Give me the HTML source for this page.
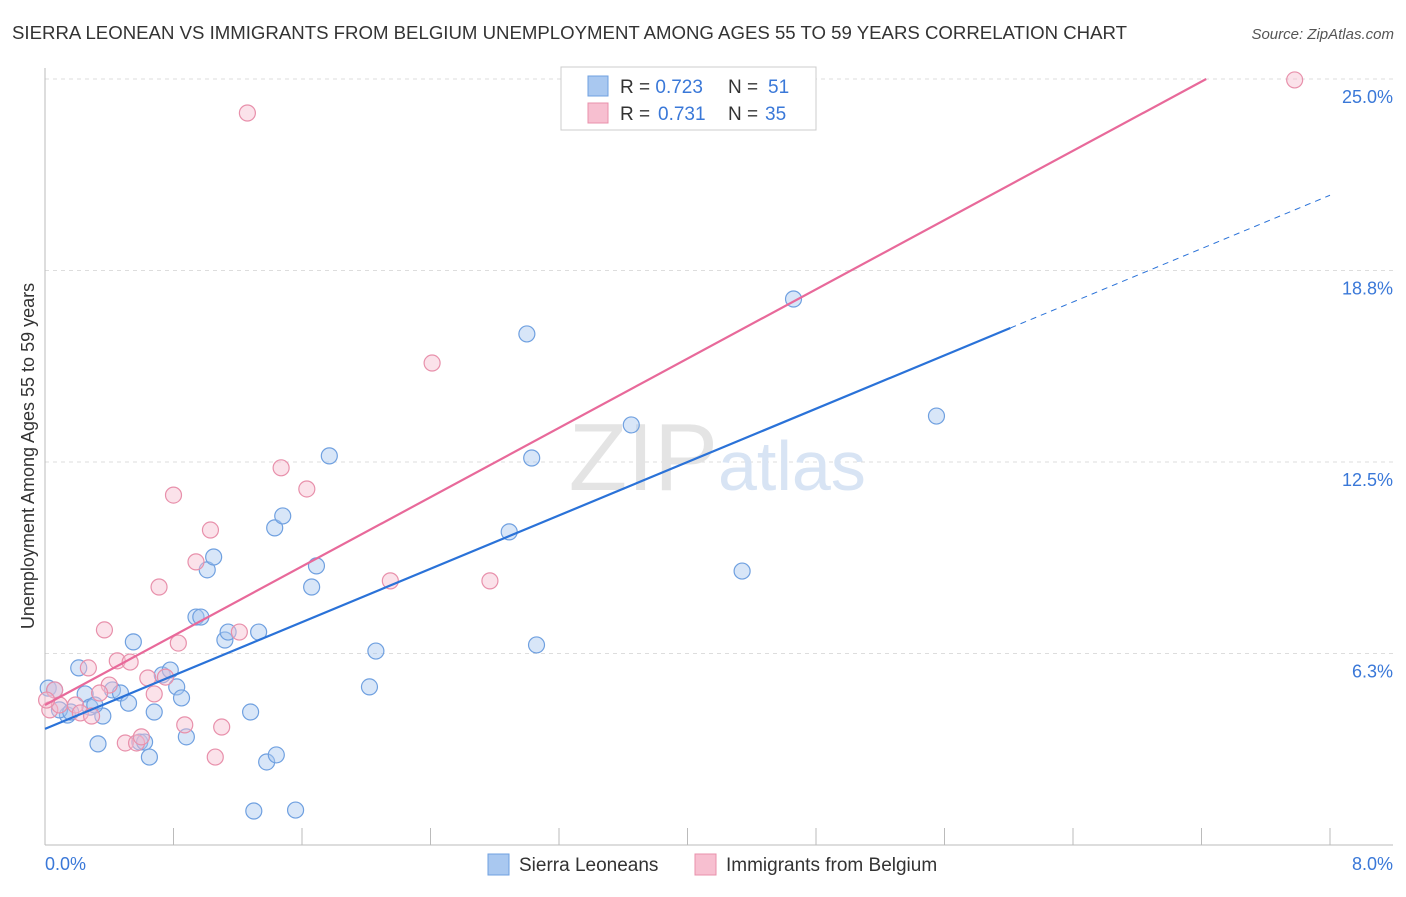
<!DOCTYPE html>
<html><head><meta charset="utf-8"><style>
body{margin:0;background:#fff;font-family:"Liberation Sans",sans-serif;}
svg text{font-family:"Liberation Sans",sans-serif;}
</style></head><body>
<svg id="chart" width="1406" height="892">
<text x="12" y="39" font-size="18" fill="#333" textLength="1115" lengthAdjust="spacingAndGlyphs">SIERRA LEONEAN VS IMMIGRANTS FROM BELGIUM UNEMPLOYMENT AMONG AGES 55 TO 59 YEARS CORRELATION CHART</text>
<text x="1394" y="39" font-size="15" fill="#555" text-anchor="end" font-style="italic">Source: ZipAtlas.com</text>
<text x="0" y="0" transform="translate(34,456) rotate(-90)" font-size="18" fill="#333" text-anchor="middle">Unemployment Among Ages 55 to 59 years</text>
<g id="grid"></g>
<text x="718" y="490" font-size="96" fill="#e4e4e4" text-anchor="end" font-family="Liberation Serif">ZIP</text>
<text x="718" y="490" font-size="70" fill="#d8e4f4">atlas</text>
<g id="marks"></g>
<g>
<rect x="561" y="67" width="255" height="63" fill="#fff" stroke="#ccc"/>
<rect x="588" y="76" width="20" height="20" fill="#a9c8f0" stroke="#6fa0e0"/>
<rect x="588" y="103" width="20" height="20" fill="#f7bfd0" stroke="#e890ab"/>
<text x="620" y="93" font-size="19" fill="#333">R = <tspan fill="#3a78d8">0.723</tspan><tspan x="728">N = </tspan><tspan fill="#3a78d8" x="768">51</tspan></text>
<text x="620" y="120" font-size="19" fill="#333">R = <tspan fill="#3a78d8" x="658">0.731</tspan><tspan x="728">N = </tspan><tspan fill="#3a78d8" x="765">35</tspan></text>
</g>
<g>
<rect x="488" y="854" width="21" height="21" fill="#a9c8f0" stroke="#6fa0e0"/>
<text x="519" y="871" font-size="19" fill="#333">Sierra Leoneans</text>
<rect x="695" y="854" width="21" height="21" fill="#f7bfd0" stroke="#e890ab"/>
<text x="726" y="871" font-size="19" fill="#333">Immigrants from Belgium</text>
</g>
<text x="45" y="870" font-size="18" fill="#3a78d8">0.0%</text>
<text x="1393" y="870" font-size="18" fill="#3a78d8" text-anchor="end">8.0%</text>
</svg>
<script>
const blueX=[0.02,0.06,0.14,0.21,0.25,0.28,0.33,0.36,0.42,0.47,0.52,0.55,0.59,0.62,0.65,0.68,0.73,0.78,0.82,0.85,0.88,0.94,0.97,1.01,1.05,1.12,1.14,1.28,1.33,1.38,1.43,1.44,1.48,1.30,1.56,1.66,1.69,1.77,2.02,2.06,2.89,3.00,3.03,3.06,3.65,4.34,4.66,5.55,0.09,0.16,0.31];
const blueY=[5.12,5.06,4.24,5.78,4.93,4.50,3.30,4.21,5.06,4.96,4.63,6.63,3.36,3.36,2.87,4.34,5.55,5.71,5.16,4.80,3.53,7.44,7.44,8.98,9.40,6.69,6.95,4.34,6.95,2.71,10.35,2.94,10.74,1.11,1.14,8.42,9.11,12.70,5.16,6.33,10.22,16.68,12.63,6.53,13.71,8.94,17.82,14.00,4.41,4.34,4.57];
const pinkX=[1.26,7.78,2.41,1.47,1.63,0.80,1.03,0.94,0.71,2.15,2.77,0.37,0.83,1.21,0.45,0.53,0.27,0.64,0.40,0.68,0.75,0.06,0.03,0.09,0.19,0.22,0.29,0.50,0.57,0.60,0.87,1.10,1.06,0.01,0.34];
const pinkY=[23.89,24.97,15.73,12.31,11.62,11.42,10.28,9.24,8.42,8.62,8.62,7.02,6.59,6.95,6.01,5.97,5.78,5.45,5.22,4.93,5.48,5.06,4.41,4.57,4.57,4.31,4.21,3.33,3.33,3.53,3.92,3.85,2.87,4.73,4.96];
const blueFit=[3.79,2.177];
const pinkFit=[4.57,2.826];
const yTicks=[6.25,12.5,18.75,25.0];
const yTickLabels=["6.3%","12.5%","18.8%","25.0%"];
const xTicks=[0,0.8,1.6,2.4,3.2,4.0,4.8,5.6,6.4,7.2,8.0];
const NS="http://www.w3.org/2000/svg";
function sx(v){return 45+v/8*1285;}
function sy(v){return 845-v/6.25*191.5;}
function mk(tag,attrs,parent){const e=document.createElementNS(NS,tag);for(const k in attrs)e.setAttribute(k,attrs[k]);parent.appendChild(e);return e;}
const grid=document.getElementById('grid'),marks=document.getElementById('marks');
yTicks.forEach((t,i)=>{
 const l=mk('line',{x1:45,x2:1393,y1:sy(t),y2:sy(t),stroke:'#ddd','stroke-dasharray':'4,4'},grid);
 
 
 const tx=mk('text',{x:1393,y:sy(t)+24,'font-size':18,fill:'#3a78d8','text-anchor':'end'},grid);
 tx.textContent=yTickLabels[i];
 
 
});
const ax=mk('line',{x1:45,x2:45,y1:68,y2:845,stroke:'#bbb'},grid);


const bx=mk('line',{x1:45,x2:1393,y1:845,y2:845,stroke:'#bbb'},grid);


xTicks.forEach(t=>{
 const l=mk('line',{x1:sx(t),x2:sx(t),y1:828,y2:845,stroke:'#bbb'},grid);
 
 
});
function pts(X,Y,fill,stroke,name){
 X.forEach((x,i)=>{
  const c=mk('circle',{cx:sx(x),cy:sy(Y[i]),r:8,fill:fill,'fill-opacity':0.45,stroke:stroke,'stroke-width':1.2},marks);
  
  
 });
}
pts(blueX,blueY,'#a9c8f0','#6fa0e0','sierra-leonean-point');
pts(pinkX,pinkY,'#f7bfd0','#e890ab','belgium-immigrant-point');
const b1=mk('line',{x1:sx(0),y1:sy(blueFit[0]),x2:sx(6.01),y2:sy(blueFit[0]+blueFit[1]*6.01),stroke:'#2a72d8','stroke-width':2.2},marks);


const b2=mk('line',{x1:sx(6.01),y1:sy(blueFit[0]+blueFit[1]*6.01),x2:sx(8),y2:sy(blueFit[0]+blueFit[1]*8),stroke:'#2a72d8','stroke-width':1,'stroke-dasharray':'6,5'},marks);


const xe=(25-pinkFit[0])/pinkFit[1];
const p1=mk('line',{x1:sx(0),y1:sy(pinkFit[0]),x2:sx(xe),y2:sy(25),stroke:'#e8699a','stroke-width':2.2},marks);


</script>
</body></html>
